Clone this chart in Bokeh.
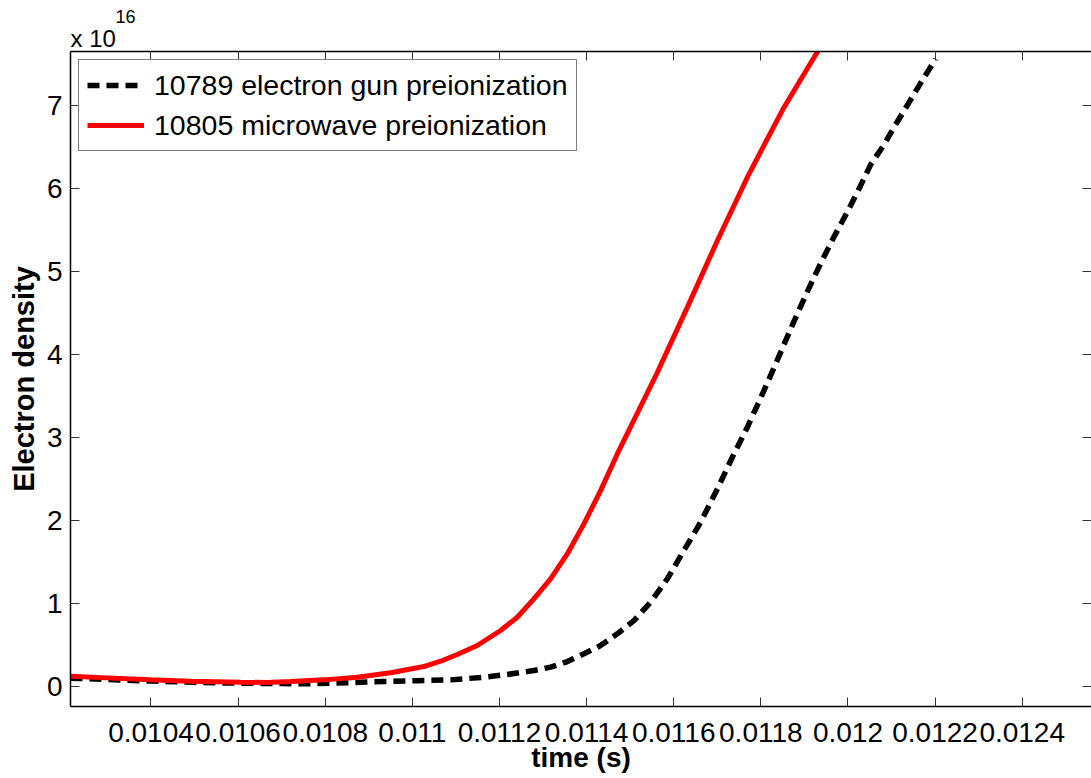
from bokeh.plotting import figure
from bokeh.models import FixedTicker, LinearAxis, Range1d, Title
from bokeh.embed import file_html
from bokeh.resources import INLINE

# Shot 10789: electron gun preionization (time in s, density in units of 1e16)
gun_t = [0.0102152, 0.0103, 0.0104, 0.0105, 0.0106, 0.0107, 0.0107433, 0.0108198,
         0.0109346, 0.0110112, 0.0110877, 0.0111642, 0.0112179, 0.011279, 0.0113173,
         0.0113557, 0.0113938, 0.0114321, 0.0114705, 0.0115086, 0.011547, 0.0115853,
         0.0116234, 0.0116618, 0.0117001, 0.0117382, 0.011769, 0.0118071, 0.0118455,
         0.011876, 0.0119068, 0.0119373, 0.0119679, 0.0119986, 0.0120292, 0.0120521,
         0.0120827, 0.0121056, 0.0121286, 0.0121516, 0.0121745, 0.0122014]
gun_ne = [0.10, 0.085, 0.065, 0.05, 0.04, 0.035, 0.032, 0.04,
          0.06, 0.07, 0.08, 0.112, 0.145, 0.193, 0.233,
          0.301, 0.394, 0.494, 0.635, 0.795, 1.016, 1.297,
          1.639, 1.98, 2.38, 2.803, 3.124, 3.566, 4.028,
          4.40, 4.76, 5.10, 5.42, 5.72, 6.04, 6.29,
          6.53, 6.74, 6.94, 7.14, 7.34, 7.563]

# Shot 10805: microwave preionization
mw_t = [0.0102152, 0.0102994, 0.0104, 0.0104907, 0.0106055, 0.0106668, 0.0107203,
        0.0107968, 0.0108735, 0.0109499, 0.0110264, 0.0110648, 0.0111031, 0.011149,
        0.0112025, 0.0112409, 0.011279, 0.0113173, 0.0113557, 0.0113938, 0.0114321,
        0.0114705, 0.0115607, 0.0116312, 0.0117001, 0.0117727, 0.011853, 0.0119311]
mw_ne = [0.124, 0.104, 0.080, 0.064, 0.052, 0.048, 0.060,
         0.080, 0.112, 0.165, 0.241, 0.305, 0.386, 0.494,
         0.675, 0.835, 1.056, 1.297, 1.598, 1.960, 2.361,
         2.803, 3.767, 4.570, 5.373, 6.177, 6.980, 7.660]

x_ticks = [0.0104, 0.0106, 0.0108, 0.011, 0.0112, 0.0114, 0.0116, 0.0118, 0.012, 0.0122, 0.0124]
x_tick_labels = ["0.0104", "0.0106", "0.0108", "0.011", "0.0112", "0.0114",
                 "0.0116", "0.0118", "0.012", "0.0122", "0.0124"]
y_ticks = [0, 1, 2, 3, 4, 5, 6, 7]
y_exponent = "16"

FONT = "Liberation Sans"
FS = "28px"

p = figure(width=1091, height=778,
           x_range=Range1d(0.0102152, 0.0125591),
           y_range=Range1d(-0.241, 7.654),
           output_backend="svg", toolbar_location=None,
           min_border_left=70, min_border_right=0,
           min_border_top=51, min_border_bottom=72)
p.grid.visible = False
p.outline_line_color = None
p.background_fill_color = "white"
p.border_fill_color = "white"

xax = p.below[0]
yax = p.left[0]
xax.ticker = FixedTicker(ticks=x_ticks)
xax.major_label_overrides = dict(zip(x_ticks, x_tick_labels))
yax.ticker = FixedTicker(ticks=y_ticks)

for ax in (xax, yax):
    ax.axis_line_color = "black"
    ax.axis_line_width = 1.5
    ax.major_tick_in = 9
    ax.major_tick_out = 0
    ax.major_tick_line_color = "#333333"
    ax.minor_tick_line_color = None
    ax.major_label_text_font = FONT
    ax.major_label_text_font_size = FS
    ax.major_label_text_color = "black"
    ax.axis_label_text_font = FONT
    ax.axis_label_text_font_size = FS
    ax.axis_label_text_font_style = "bold"
    ax.axis_label_text_color = "black"
    ax.axis_label_standoff = 0

xax.major_label_standoff = 16
xax.axis_label_standoff = -3
yax.major_label_standoff = 8
yax.axis_label_standoff = 4
yax.axis_label_text_font_size = "29px"
xax.axis_label = "time (s)"
yax.axis_label = "Electron density"

# box edges: top and right carry inward ticks only
top = LinearAxis(ticker=FixedTicker(ticks=x_ticks), axis_line_color="black", axis_line_width=1.5,
                 major_tick_in=9, major_tick_out=0, major_tick_line_color="#333333",
                 minor_tick_line_color=None, major_label_text_font_size="0px",
                 major_label_text_color=None, major_label_standoff=0)
right = LinearAxis(ticker=FixedTicker(ticks=y_ticks), axis_line_color=None,
                   major_tick_in=9, major_tick_out=0, major_tick_line_color="#333333",
                   minor_tick_line_color=None, major_label_text_font_size="0px",
                   major_label_text_color=None, major_label_standoff=0)
p.add_layout(top, "above")
p.add_layout(right, "right")

p.line(gun_t, gun_ne, line_color="black", line_width=5.5, line_dash="12 7",
       legend_label="10789 electron gun preionization")
p.line(mw_t, mw_ne, line_color="#ff0000", line_width=5,
       legend_label="10805 microwave preionization")

leg = p.legend[0]
leg.location = "top_left"
leg.margin = 8
leg.padding = 8
leg.spacing = 6
leg.glyph_width = 57
leg.glyph_height = 34
leg.label_height = 34
leg.label_standoff = 10
leg.label_text_font = FONT
leg.label_text_font_size = "28.5px"
leg.label_text_color = "black"
leg.border_line_color = "black"
leg.border_line_width = 1.5
leg.background_fill_alpha = 1.0

# exponent marker of the density axis, set above the frame's top-left corner
p.add_layout(Title(text="x 10", align="left", offset=0, standoff=0,
                   text_font=FONT, text_font_size="24px", text_font_style="normal",
                   text_color="black"), "above")
p.add_layout(Title(text=y_exponent, align="left", offset=45, standoff=0,
                   text_font=FONT, text_font_size="18px", text_font_style="normal",
                   text_color="black"), "above")

open("out.html", "w").write(file_html(p, INLINE))
